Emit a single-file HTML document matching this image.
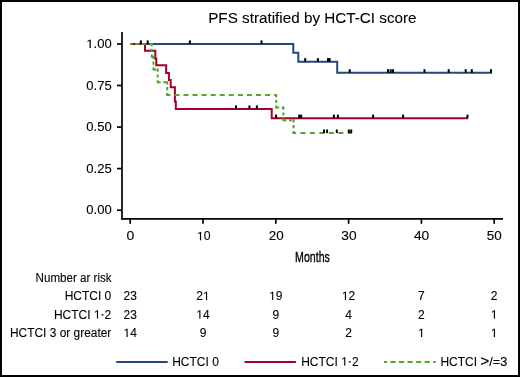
<!DOCTYPE html>
<html><head><meta charset="utf-8"><style>
html,body{margin:0;padding:0;background:#fff;}
svg{display:block;will-change:transform;}
text{font-family:"Liberation Sans",sans-serif;font-size:12px;fill:#000;stroke:#000;stroke-width:0.1px;}
.h{fill-opacity:0;stroke-opacity:0;}
.one path,.one rect{fill:#000;stroke:#000;stroke-width:0.1px;vector-effect:non-scaling-stroke;}
</style></head><body>
<svg width="520" height="377" viewBox="0 0 520 377">
<rect x="0" y="0" width="520" height="377" fill="#fff"/>
<g stroke="#000" stroke-width="1.7" fill="none">
<line x1="122" y1="32" x2="122" y2="219.8"/>
<line x1="121.2" y1="218.9" x2="503" y2="218.9"/>
<line x1="117" y1="44" x2="122" y2="44"/><line x1="117" y1="85.5" x2="122" y2="85.5"/><line x1="117" y1="127.1" x2="122" y2="127.1"/><line x1="117" y1="168.6" x2="122" y2="168.6"/><line x1="117" y1="210.2" x2="122" y2="210.2"/>
<line x1="130.2" y1="219" x2="130.2" y2="223.8"/><line x1="203.0" y1="219" x2="203.0" y2="223.8"/><line x1="275.8" y1="219" x2="275.8" y2="223.8"/><line x1="348.6" y1="219" x2="348.6" y2="223.8"/><line x1="421.4" y1="219" x2="421.4" y2="223.8"/><line x1="494.2" y1="219" x2="494.2" y2="223.8"/>
</g>
<text id="t0" x="208.2" y="22.8" style="font-size:15.1px" textLength="208.4" lengthAdjust="spacingAndGlyphs">PFS stratified by HCT-CI score</text><text id="t1" x="111.7" y="48.0" text-anchor="end" textLength="25.4" lengthAdjust="spacingAndGlyphs"><tspan class="h">1</tspan>.00</text><text id="t2" x="111.7" y="89.5" text-anchor="end" textLength="25.4" lengthAdjust="spacingAndGlyphs">0.75</text><text id="t3" x="111.7" y="131.1" text-anchor="end" textLength="25.4" lengthAdjust="spacingAndGlyphs">0.50</text><text id="t4" x="111.7" y="172.6" text-anchor="end" textLength="25.4" lengthAdjust="spacingAndGlyphs">0.25</text><text id="t5" x="111.7" y="214.2" text-anchor="end" textLength="25.4" lengthAdjust="spacingAndGlyphs">0.00</text><text id="t6" x="130.4" y="240.2" text-anchor="middle" textLength="7.8" lengthAdjust="spacingAndGlyphs">0</text><text id="t7" x="203.7" y="240.2" text-anchor="middle" textLength="13.6" lengthAdjust="spacingAndGlyphs"><tspan class="h">1</tspan>0</text><text id="t8" x="276.3" y="240.2" text-anchor="middle" textLength="15.0" lengthAdjust="spacingAndGlyphs">20</text><text id="t9" x="348.9" y="240.2" text-anchor="middle" textLength="15.3" lengthAdjust="spacingAndGlyphs">30</text><text id="t10" x="421.6" y="240.2" text-anchor="middle" textLength="15.3" lengthAdjust="spacingAndGlyphs">40</text><text id="t11" x="494.3" y="240.2" text-anchor="middle" textLength="15.0" lengthAdjust="spacingAndGlyphs">50</text><text id="t12" x="111.6" y="281.5" text-anchor="end" textLength="76" lengthAdjust="spacingAndGlyphs">Number ar risk</text><text id="t13" x="111.3" y="300.0" text-anchor="end">HCTCI 0</text><text id="t14" x="130.2" y="300.0" text-anchor="middle">23</text><text id="t15" x="203.0" y="300.0" text-anchor="middle">2<tspan class="h">1</tspan></text><text id="t16" x="275.8" y="300.0" text-anchor="middle"><tspan class="h">1</tspan>9</text><text id="t17" x="348.6" y="300.0" text-anchor="middle"><tspan class="h">1</tspan>2</text><text id="t18" x="421.4" y="300.0" text-anchor="middle">7</text><text id="t19" x="494.2" y="300.0" text-anchor="middle">2</text><text id="t20" x="111.3" y="318.6" text-anchor="end">HCTCI <tspan class="h">1</tspan><tspan class="h">-</tspan>2</text><text id="t21" x="130.2" y="318.6" text-anchor="middle">23</text><text id="t22" x="203.0" y="318.6" text-anchor="middle"><tspan class="h">1</tspan>4</text><text id="t23" x="275.8" y="318.6" text-anchor="middle">9</text><text id="t24" x="348.6" y="318.6" text-anchor="middle">4</text><text id="t25" x="421.4" y="318.6" text-anchor="middle">2</text><text id="t26" x="494.2" y="318.6" text-anchor="middle"><tspan class="h">1</tspan></text><text id="t27" x="111.3" y="337.0" text-anchor="end" textLength="101.3" lengthAdjust="spacingAndGlyphs">HCTCI 3 or greater</text><text id="t28" x="130.2" y="337.0" text-anchor="middle"><tspan class="h">1</tspan>4</text><text id="t29" x="203.0" y="337.0" text-anchor="middle">9</text><text id="t30" x="275.8" y="337.0" text-anchor="middle">9</text><text id="t31" x="348.6" y="337.0" text-anchor="middle">2</text><text id="t32" x="421.4" y="337.0" text-anchor="middle"><tspan class="h">1</tspan></text><text id="t33" x="494.2" y="337.0" text-anchor="middle"><tspan class="h">1</tspan></text><text id="t34" x="172.2" y="365.6">HCTCI 0</text><text id="t35" x="301.2" y="365.6">HCTCI <tspan class="h">1</tspan><tspan class="h">-</tspan>2</text><text id="t36" x="440.4" y="365.6">HCTCI</text>
<g class="one"><path transform="matrix(0.006372 0 0 -0.005859 86.30 48.00)" d="M515,0 L515,1237 L197,1010 L197,1180 L530,1409 L696,1409 L696,0 Z"/><path transform="matrix(0.005970 0 0 -0.005859 196.90 240.20)" d="M515,0 L515,1237 L197,1010 L197,1180 L530,1409 L696,1409 L696,0 Z"/><path transform="matrix(0.005859 0 0 -0.005859 202.99 300.00)" d="M515,0 L515,1237 L197,1010 L197,1180 L530,1409 L696,1409 L696,0 Z"/><path transform="matrix(0.005859 0 0 -0.005859 269.12 300.00)" d="M515,0 L515,1237 L197,1010 L197,1180 L530,1409 L696,1409 L696,0 Z"/><path transform="matrix(0.005859 0 0 -0.005859 341.92 300.00)" d="M515,0 L515,1237 L197,1010 L197,1180 L530,1409 L696,1409 L696,0 Z"/><path transform="matrix(0.005859 0 0 -0.005859 93.94 318.60)" d="M515,0 L515,1237 L197,1010 L197,1180 L530,1409 L696,1409 L696,0 Z"/><rect x="101.66" y="314.30" width="1.8" height="1.2"/><path transform="matrix(0.005859 0 0 -0.005859 196.32 318.60)" d="M515,0 L515,1237 L197,1010 L197,1180 L530,1409 L696,1409 L696,0 Z"/><path transform="matrix(0.005859 0 0 -0.005859 490.86 318.60)" d="M515,0 L515,1237 L197,1010 L197,1180 L530,1409 L696,1409 L696,0 Z"/><path transform="matrix(0.005859 0 0 -0.005859 123.52 337.00)" d="M515,0 L515,1237 L197,1010 L197,1180 L530,1409 L696,1409 L696,0 Z"/><path transform="matrix(0.005859 0 0 -0.005859 418.06 337.00)" d="M515,0 L515,1237 L197,1010 L197,1180 L530,1409 L696,1409 L696,0 Z"/><path transform="matrix(0.005859 0 0 -0.005859 490.86 337.00)" d="M515,0 L515,1237 L197,1010 L197,1180 L530,1409 L696,1409 L696,0 Z"/><path transform="matrix(0.005859 0 0 -0.005859 341.18 365.60)" d="M515,0 L515,1237 L197,1010 L197,1180 L530,1409 L696,1409 L696,0 Z"/><rect x="348.91" y="361.30" width="1.8" height="1.2"/></g>
<text x="480.2" y="365.6" textLength="27.2" lengthAdjust="spacingAndGlyphs"><tspan style="font-size:14.5px" dy="0.4">&gt;</tspan><tspan dy="-0.4">/=3</tspan></text>
<text transform="translate(295.1,261.7) scale(0.69,1)" style="font-size:15.4px;stroke-width:0.35px">Months</text>
<g fill="none" stroke-width="2" stroke-linejoin="miter" stroke-linecap="butt">
<path d="M130,44 H293.3 V52.8 H298.3 V61.7 H337.2 V72.8 H492" stroke="#26467f"/>
<path d="M130,44 H145 V50.7 H155.3 V58.7 H156.3 V65.3 H166.1 V73.1 H168.9 V79.9 H170.7 V87.3 H174.9 V101.6 H175.8 V109 H271.7 V118.2 H468" stroke="#a3012b"/>
<g stroke="#56a430"><line x1="130" y1="44" x2="132.4" y2="44"/><line x1="135.2" y1="44" x2="139.2" y2="44"/><line x1="141.5" y1="44" x2="145.8" y2="44"/><line x1="149.6" y1="44" x2="152.7" y2="44"/><line x1="151.7" y1="56.7" x2="153.5" y2="56.7"/><line x1="152.5" y1="69.6" x2="157.7" y2="69.6" stroke-dasharray="3 2.7" stroke-dashoffset="-1"/><line x1="156.7" y1="82.3" x2="167.2" y2="82.3" stroke-dasharray="3 2.7" stroke-dashoffset="-1"/><line x1="166.2" y1="95.0" x2="276.2" y2="95.0" stroke-dasharray="5 4.07" stroke-dashoffset="0.8700000000000001"/><line x1="275.2" y1="107.6" x2="283.4" y2="107.6" stroke-dasharray="3 2.5" stroke-dashoffset="-1"/><line x1="282.4" y1="120.3" x2="293.6" y2="120.3" stroke-dasharray="3 2.7" stroke-dashoffset="-1"/><line x1="292.6" y1="133.1" x2="351.5" y2="133.1" stroke-dasharray="5 4.5" stroke-dashoffset="1.7000000000000002"/><line x1="151.7" y1="43" x2="151.7" y2="57.7" stroke-dasharray="3.2 2.6"/><line x1="153.5" y1="55.7" x2="153.5" y2="70.6" stroke-dasharray="3.2 2.6"/><line x1="157.7" y1="68.6" x2="157.7" y2="83.3" stroke-dasharray="3.2 2.6"/><line x1="167.2" y1="81.3" x2="167.2" y2="96.0" stroke-dasharray="3.2 2.6"/><line x1="276.2" y1="94.0" x2="276.2" y2="108.6" stroke-dasharray="3.2 2.6"/><line x1="283.4" y1="106.6" x2="283.4" y2="121.3" stroke-dasharray="3.2 2.6"/><line x1="293.6" y1="119.3" x2="293.6" y2="134.1" stroke-dasharray="3.2 2.6"/></g>
</g>
<g fill="#000"><rect x="139.8" y="40.4" width="2" height="3.6"/><rect x="146.7" y="40.4" width="2" height="3.6"/><rect x="188.9" y="40.4" width="2" height="3.6"/><rect x="260.5" y="40.4" width="2" height="3.6"/><rect x="304.2" y="58.1" width="2" height="3.6"/><rect x="316.9" y="58.1" width="2" height="3.6"/><rect x="327.0" y="58.1" width="2" height="3.6"/><rect x="328.6" y="58.1" width="2" height="3.6"/><rect x="348.7" y="69.2" width="2" height="3.6"/><rect x="387.0" y="69.2" width="2" height="3.6"/><rect x="389.7" y="69.2" width="2" height="3.6"/><rect x="392.0" y="69.2" width="2" height="3.6"/><rect x="423.5" y="69.2" width="2" height="3.6"/><rect x="447.7" y="69.2" width="2" height="3.6"/><rect x="464.7" y="69.2" width="2" height="3.6"/><rect x="470.8" y="69.2" width="2" height="3.6"/><rect x="490.0" y="69.2" width="2" height="3.6"/><rect x="235.0" y="105.4" width="2" height="3.6"/><rect x="248.4" y="105.4" width="2" height="3.6"/><rect x="255.9" y="105.4" width="2" height="3.6"/><rect x="275.1" y="114.6" width="2" height="3.6"/><rect x="298.2" y="114.6" width="2" height="3.6"/><rect x="300.2" y="114.6" width="2" height="3.6"/><rect x="332.9" y="114.6" width="2" height="3.6"/><rect x="336.9" y="114.6" width="2" height="3.6"/><rect x="372.1" y="114.6" width="2" height="3.6"/><rect x="402.1" y="114.6" width="2" height="3.6"/><rect x="466.5" y="114.6" width="2" height="3.6"/><rect x="323.0" y="129.5" width="2" height="3.6"/><rect x="326.1" y="129.5" width="2" height="3.6"/><rect x="335.8" y="129.5" width="2" height="3.6"/><rect x="347.8" y="129.5" width="2" height="3.6"/><rect x="350.2" y="129.5" width="2" height="3.6"/></g>
<g stroke-width="2">
<line x1="116.2" y1="362" x2="167.7" y2="362" stroke="#26467f"/>
<line x1="244.6" y1="362" x2="295.9" y2="362" stroke="#a3012b"/>
<line x1="384" y1="362" x2="435.7" y2="362" stroke="#56a430" stroke-dasharray="5.1 3.45" stroke-dashoffset="2.1"/>
</g>
<rect x="1" y="1" width="518" height="375" fill="none" stroke="#000" stroke-width="2"/>
</svg>
</body></html>
